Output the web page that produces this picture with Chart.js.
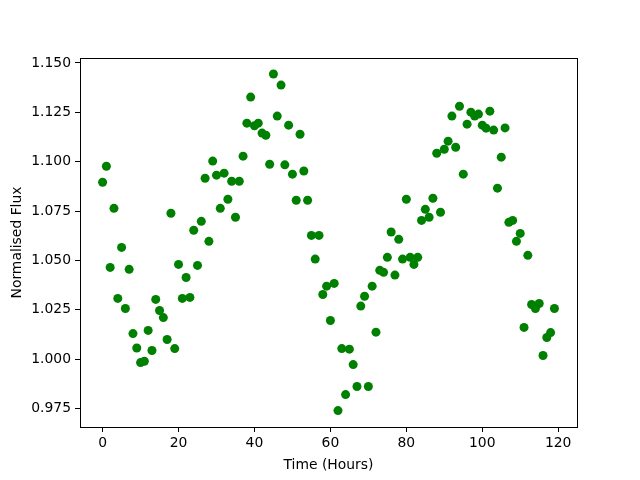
<!DOCTYPE html>
<html>
<head>
<meta charset="utf-8">
<script src="https://cdn.jsdelivr.net/npm/chart.js@4"></script>
<style>
  html, body { margin: 0; padding: 0; background: #fff; }
  #wrap { width: 640px; height: 480px; }
</style>
</head>
<body>
<div id="wrap"><canvas id="mycanvas" width="640" height="480"></canvas></div>
<script>
// hours 0..119
var hours = [];
for (var h = 0; h < 120; h++) hours.push(h);

var flux = [
	1.0896, 1.0977, 1.0465, 1.0764, 1.0308, 1.0566, 1.0257, 1.0455, 1.0130, 1.0057,
	0.9983, 0.9990, 1.0146, 1.0044, 1.0303, 1.0247, 1.0211, 1.0100, 1.0739, 1.0054,
	1.0480, 1.0308, 1.0414, 1.0313, 1.0653, 1.0475, 1.0698, 1.0916, 1.0597, 1.1003,
	1.0932, 1.0764, 1.0942, 1.0810, 1.0901, 1.0719, 1.0901, 1.1028, 1.1195, 1.1327,
	1.1182, 1.1195, 1.1145, 1.1134, 1.0987, 1.1444, 1.1231, 1.1388, 1.0984, 1.1185,
	1.0937, 1.0805, 1.1139, 1.0953, 1.0805, 1.0627, 1.0507, 1.0627, 1.0328, 1.0370,
	1.0196, 1.0384, 0.9740, 1.0054, 0.9821, 1.0051, 0.9973, 0.9862, 1.0269, 1.0319,
	0.9862, 1.0370, 1.0137, 1.0450, 1.0440, 1.0516, 1.0644, 1.0426, 1.0607, 1.0507,
	1.0810, 1.0516, 1.0480, 1.0516, 1.0703, 1.0759, 1.0719, 1.0815, 1.1043, 1.0744,
	1.1063, 1.1104, 1.1231, 1.1073, 1.1281, 1.0937, 1.1190, 1.1251, 1.1231, 1.1241,
	1.1185, 1.1170, 1.1256, 1.1160, 1.0866, 1.1023, 1.1171, 1.0693, 1.0703, 1.0597,
	1.0637, 1.0161, 1.0526, 1.0277, 1.0257, 1.0282, 1.0019, 1.0110, 1.0135, 1.0257
];

var xTicks = [0, 20, 40, 60, 80, 100, 120];
var yTicks = [0.975, 1.000, 1.025, 1.050, 1.075, 1.100, 1.125, 1.150];

var points = [];
for (var i in hours) {
	points.push({x: hours[i], y: flux[i]});
}

var font = {family: "'DejaVu Sans', sans-serif", size: 13.9};

// top and right spines (chart.js only draws the axis borders)
var frame = {
	id: 'frame',
	afterDraw: function(chart) {
		var a = chart.chartArea, c = chart.ctx;
		c.save();
		c.strokeStyle = '#000';
		c.lineWidth = 1;
		c.strokeRect(a.left + 0.5, a.top + 0.5, a.right - a.left, a.bottom - a.top);
		c.restore();
	}
};

var ctx = document.getElementById('mycanvas');

var plot = new Chart(ctx, {
	type: 'scatter',
	data: {
		datasets: [
			{
				label: 'flux',
				data: points,
				backgroundColor: '#008000',
				borderWidth: 0,
				pointRadius: 4.5,
				pointHoverRadius: 4.5
			}
		]
	},
	options: {
		responsive: false,
		animation: false,
		layout: {padding: {top: 58, right: 63, left: 0, bottom: 0}},
		plugins: {legend: {display: false}, tooltip: {enabled: false}},
		scales: {
			x: {
				type: 'linear',
				min: -5.95,
				max: 124.95,
				afterBuildTicks: function(s) { s.ticks = xTicks.map(function(v){ return {value: v}; }); },
				afterFit: function(s) { s.height = 53; },
				grid: {display: true, drawOnChartArea: false, drawTicks: true, tickLength: 5, color: '#000'},
				border: {display: true, color: '#000'},
				ticks: {color: '#000', font: font, padding: 3, maxRotation: 0,
					callback: function(v) { return v; }},
				title: {display: true, text: 'Time (Hours)', color: '#000', font: font, padding: {top: 0, bottom: 6}}
			},
			y: {
				type: 'linear',
				min: 0.9657,
				max: 1.1525,
				afterBuildTicks: function(s) { s.ticks = yTicks.map(function(v){ return {value: v}; }); },
				afterFit: function(s) { s.width = 80; },
				grid: {display: true, drawOnChartArea: false, drawTicks: true, tickLength: 5, color: '#000'},
				border: {display: true, color: '#000'},
				ticks: {color: '#000', font: font, padding: 4,
					callback: function(v) { return v.toFixed(3); }},
				title: {display: true, text: 'Normalised Flux', color: '#000', font: font, padding: {top: 9, bottom: 0}}
			}
		}
	},
	plugins: [frame]
});
</script>
</body>
</html>
